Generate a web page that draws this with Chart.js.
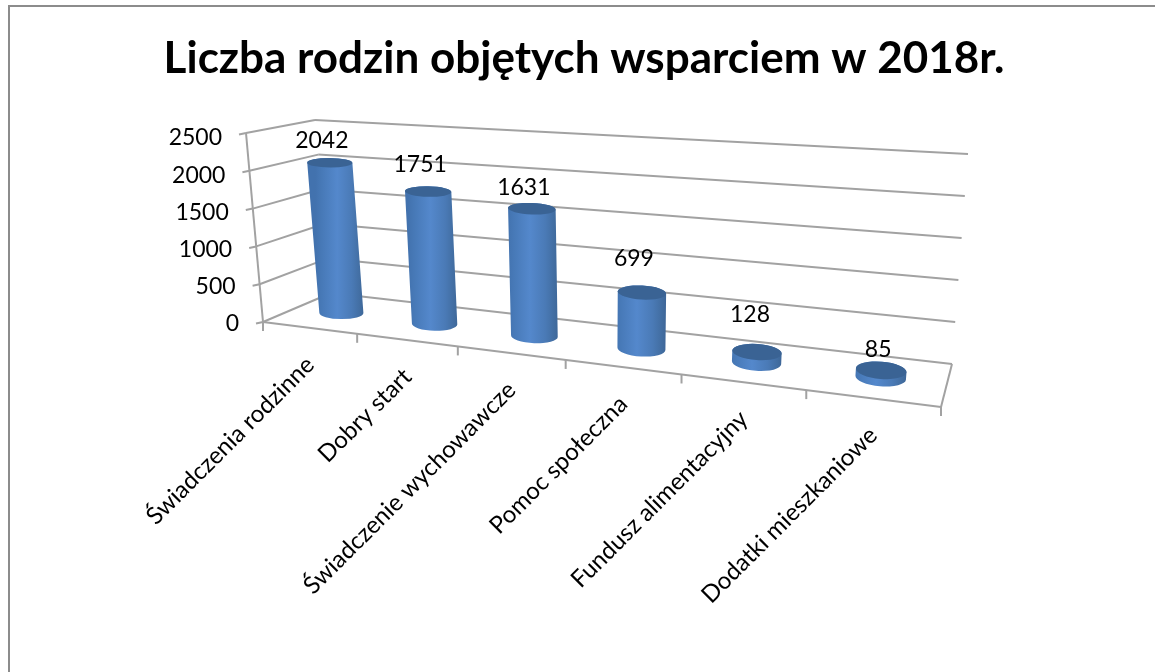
<!DOCTYPE html>
<html><head><meta charset="utf-8">
<style>html,body{margin:0;padding:0;background:#fff}canvas{display:block}</style>
<script src="https://cdn.jsdelivr.net/npm/chart.js@4"></script></head>
<body><div style="width:1155px;height:672px"><canvas id="c" width="1155" height="672"></canvas></div>
<script>
const categories = ["Świadczenia rodzinne","Dobry start","Świadczenie wychowawcze","Pomoc społeczna","Fundusz alimentacyjny","Dodatki mieszkaniowe"];
const values = [2042,1751,1631,699,128,85];
const titleText = "Liczba rodzin objętych wsparciem w 2018r.";
const yMax = 2500, yStep = 500;

// 3D box of the plot: corners on screen, [floor/top][front/back][left/right]
const box = {
  fl0:[263,322], fr0:[941,407], bl0:[331,293], br0:[952,364],
  fl1:[246,133], fr1:[961,178], bl1:[315,120], br1:[968,154]
};
const persp = 1.24, GRID = '#a2a2a2';
// small nudges of each data label relative to the top of its cylinder
const labelNudge = [[-8,-22],[-8,-27],[-8,-21],[-8,-34],[-7,-37],[-3,-21]];
const lerp=(a,b,t)=>[a[0]+(b[0]-a[0])*t,a[1]+(b[1]-a[1])*t];
function project(u,v,d){
  const t=u/(u+(1-u)*persp);
  const f0=lerp(box.fl0,box.fr0,t),b0=lerp(box.bl0,box.br0,t);
  const f1=lerp(box.fl1,box.fr1,t),b1=lerp(box.bl1,box.br1,t);
  return lerp(lerp(f0,b0,d),lerp(f1,b1,d),v);
}
function line(ctx,a,b){ctx.beginPath();ctx.moveTo(a[0],a[1]);ctx.lineTo(b[0],b[1]);ctx.stroke();}

const scene3d = {
  id:'scene3d',
  beforeDraw(chart){
    const ctx=chart.ctx;ctx.save();
    ctx.strokeStyle='#8c8c8c';ctx.lineWidth=2;
    ctx.beginPath();ctx.moveTo(9,672);ctx.lineTo(9,6);ctx.lineTo(1155,6);ctx.stroke();
    ctx.restore();
  },
  beforeDatasetsDraw(chart){
    const ctx=chart.ctx,xs=chart.scales.x,ys=chart.scales.y,a=chart.chartArea;
    const U=px=>(px-a.left)/(a.right-a.left), V=py=>(a.bottom-py)/(a.bottom-a.top);
    ctx.save();
    ctx.strokeStyle=GRID;ctx.lineWidth=2;ctx.lineCap='butt';
    // walls and y ticks
    ys.ticks.forEach(tk=>{
      const v=V(ys.getPixelForValue(tk.value));
      const f=project(0,v,0),b=project(0,v,1),r=project(1,v,1);
      line(ctx,[f[0]-7,f[1]+1.5],f);line(ctx,f,b);line(ctx,b,r);
    });
    line(ctx,project(0,0,0),project(0,1,0));
    // floor
    line(ctx,project(0,0,0),project(1,0,0));
    line(ctx,project(1,0,0),project(1,0,1));
    for(let i=0;i<=categories.length;i++){
      const p=project(i/categories.length,0,0);
      line(ctx,p,[p[0],p[1]+9]);
    }
    // y labels
    ctx.fillStyle='#000';ctx.font='23px Lato';ctx.textAlign='right';ctx.textBaseline='middle';
    ys.ticks.forEach(tk=>{
      const v=V(ys.getPixelForValue(tk.value));
      const f=project(0,v,0);
      ctx.fillText(String(tk.value),f[0]-24,324-v*186);
    });
    // x labels
    categories.forEach((_,i)=>{
      const p=project(U(xs.getPixelForValue(i)),0,0);
      ctx.save();ctx.translate(p[0]+1,p[1]+33);ctx.rotate(-Math.PI/4);
      ctx.textAlign='right';ctx.textBaseline='middle';ctx.fillStyle='#000';ctx.font='24px Lato';
      ctx.fillText(xs.getLabelForValue(i),0,0);ctx.restore();
    });
    // cylinders
    const meta=chart.getDatasetMeta(0);
    meta.data.forEach((el,i)=>{
      const u=U(el.x),v=V(el.y);
      const c0=project(u,0,.5),c1=project(u,v,.5);
      const rx0=el.width/2*(.93+.17*u), rx1=rx0*(1+.03*v);
      const depthDy=Math.abs(project(u,0,1)[1]-project(u,0,0)[1]);
      const ry0=depthDy*.21, ry1=ry0*(1-.3*v);
      const rot=.09*u;
      const grad=ctx.createLinearGradient(c0[0]-rx0-4,0,c0[0]+rx0+4,0);
      grad.addColorStop(0,'#4272ae');grad.addColorStop(.12,'#4779b7');grad.addColorStop(.42,'#5488cc');
      grad.addColorStop(.7,'#4a7ab6');grad.addColorStop(.88,'#416c9f');grad.addColorStop(1,'#3a6090');
      ctx.fillStyle=grad;ctx.beginPath();
      ctx.ellipse(c1[0],c1[1],rx1,ry1,rot,Math.PI,0,false);
      ctx.ellipse(c0[0],c0[1],rx0,ry0,rot,0,Math.PI,false);
      ctx.closePath();ctx.fill();
      ctx.fillStyle='#3a6394';ctx.beginPath();
      ctx.ellipse(c1[0],c1[1],rx1,ry1,rot,0,Math.PI*2);ctx.fill();
      // value label
      const n=labelNudge[i];
      ctx.fillStyle='#000';ctx.font='23px Lato';ctx.textAlign='center';ctx.textBaseline='middle';
      ctx.fillText(String(values[i]),c1[0]+n[0],c1[1]+n[1]);
    });
    ctx.restore();
    return false;
  }
};

new Chart(document.getElementById('c'),{
  type:'bar',
  data:{labels:categories,datasets:[{data:values,backgroundColor:'#4F81BD',barPercentage:.25,categoryPercentage:1}]},
  plugins:[scene3d],
  options:{
    responsive:false,animation:false,
    layout:{padding:{left:20,right:7,top:0,bottom:60}},
    plugins:{legend:{display:false},tooltip:{enabled:false},
      title:{display:true,text:titleText,color:'#000',font:{family:'Lato',size:44,weight:'bold'},padding:{top:32,bottom:20}}},
    scales:{
      x:{ticks:{display:false},grid:{display:false},border:{display:false}},
      y:{min:0,max:yMax,ticks:{display:false,stepSize:yStep},grid:{display:false},border:{display:false}}
    }
  }
});
</script></body></html>
